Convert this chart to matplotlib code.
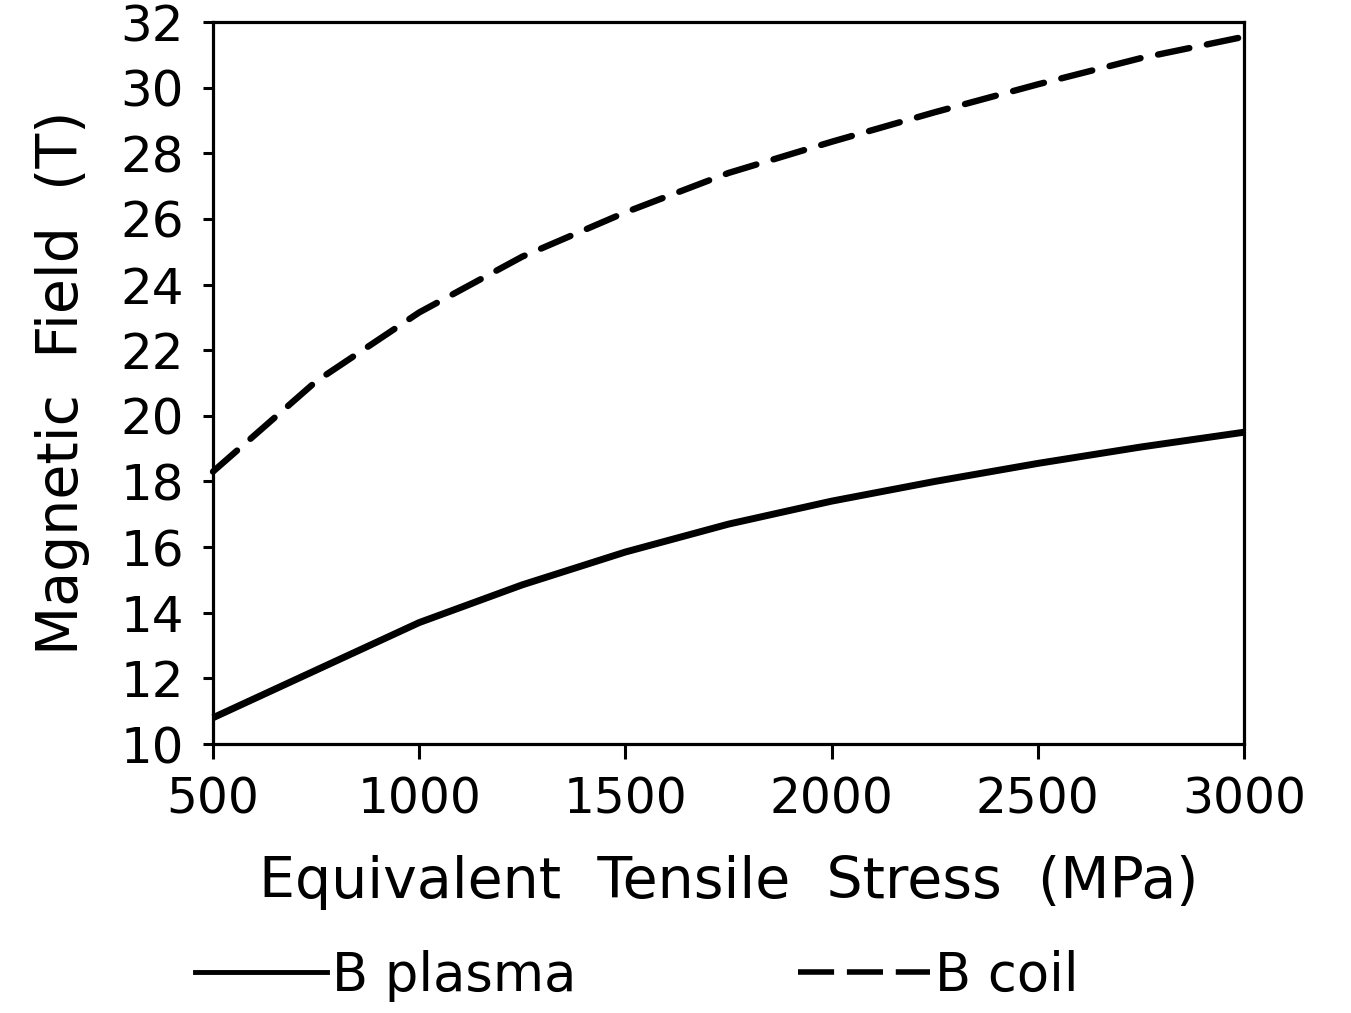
import matplotlib.pyplot as plt
from matplotlib.lines import Line2D

plt.rcParams['font.family'] = ['DejaVu Sans']

stress = [500, 750, 1000, 1250, 1500, 1750, 2000, 2250, 2500, 2750, 3000]
b_plasma = [10.8, 12.25, 13.7, 14.85, 15.85, 16.7, 17.4, 18.0, 18.55, 19.05, 19.5]
b_coil = [18.3, 21.05, 23.15, 24.85, 26.2, 27.4, 28.35, 29.25, 30.1, 30.9, 31.55]

x_ticks = [500, 1000, 1500, 2000, 2500, 3000]
x_tick_labels = ['500', '1000', '1500', '2000', '2500', '3000']
y_ticks = list(range(10, 33, 2))

fig = plt.figure(figsize=(13.51, 10.13), dpi=100)
ax = fig.add_axes([213 / 1351, 1 - 744 / 1013, (1244 - 213) / 1351, (744 - 22) / 1013])

ax.plot(stress, b_plasma, color='black', lw=5, solid_capstyle='butt', clip_on=False)
ax.plot(stress, b_coil, color='black', lw=4.6, linestyle=(0, (5, 2.8)),
        dash_capstyle='round', clip_on=False)

ax.set_xlim(500, 3000)
ax.set_ylim(10, 32)
ax.set_xticks(x_ticks)
ax.set_xticklabels(x_tick_labels)
ax.set_yticks(y_ticks)

for s in ax.spines.values():
    s.set_linewidth(2.3)
ax.tick_params(axis='x', direction='out', length=11, width=2.2, pad=12, labelsize=35)
ax.tick_params(axis='y', direction='out', length=7, width=2.2, pad=14, labelsize=36)

ax.set_xlabel('Equivalent  Tensile  Stress  (MPa)', fontsize=41, labelpad=22)
ax.set_ylabel('Magnetic  Field  (T)', fontsize=41, labelpad=22)

handles = [
    Line2D([], [], color='black', lw=3.5),
    Line2D([], [], color='black', lw=4, linestyle=(0, (6.5, 2.3))),
]
fig.legend(handles, ['B plasma', 'B coil'], loc='center left',
           bbox_to_anchor=(195 / 1351, 0.037), ncol=2, frameon=False,
           fontsize=38, handlelength=2.5, handletextpad=0.1,
           columnspacing=4.2, borderpad=0, borderaxespad=0)

fig.savefig('out.png', dpi=100)
